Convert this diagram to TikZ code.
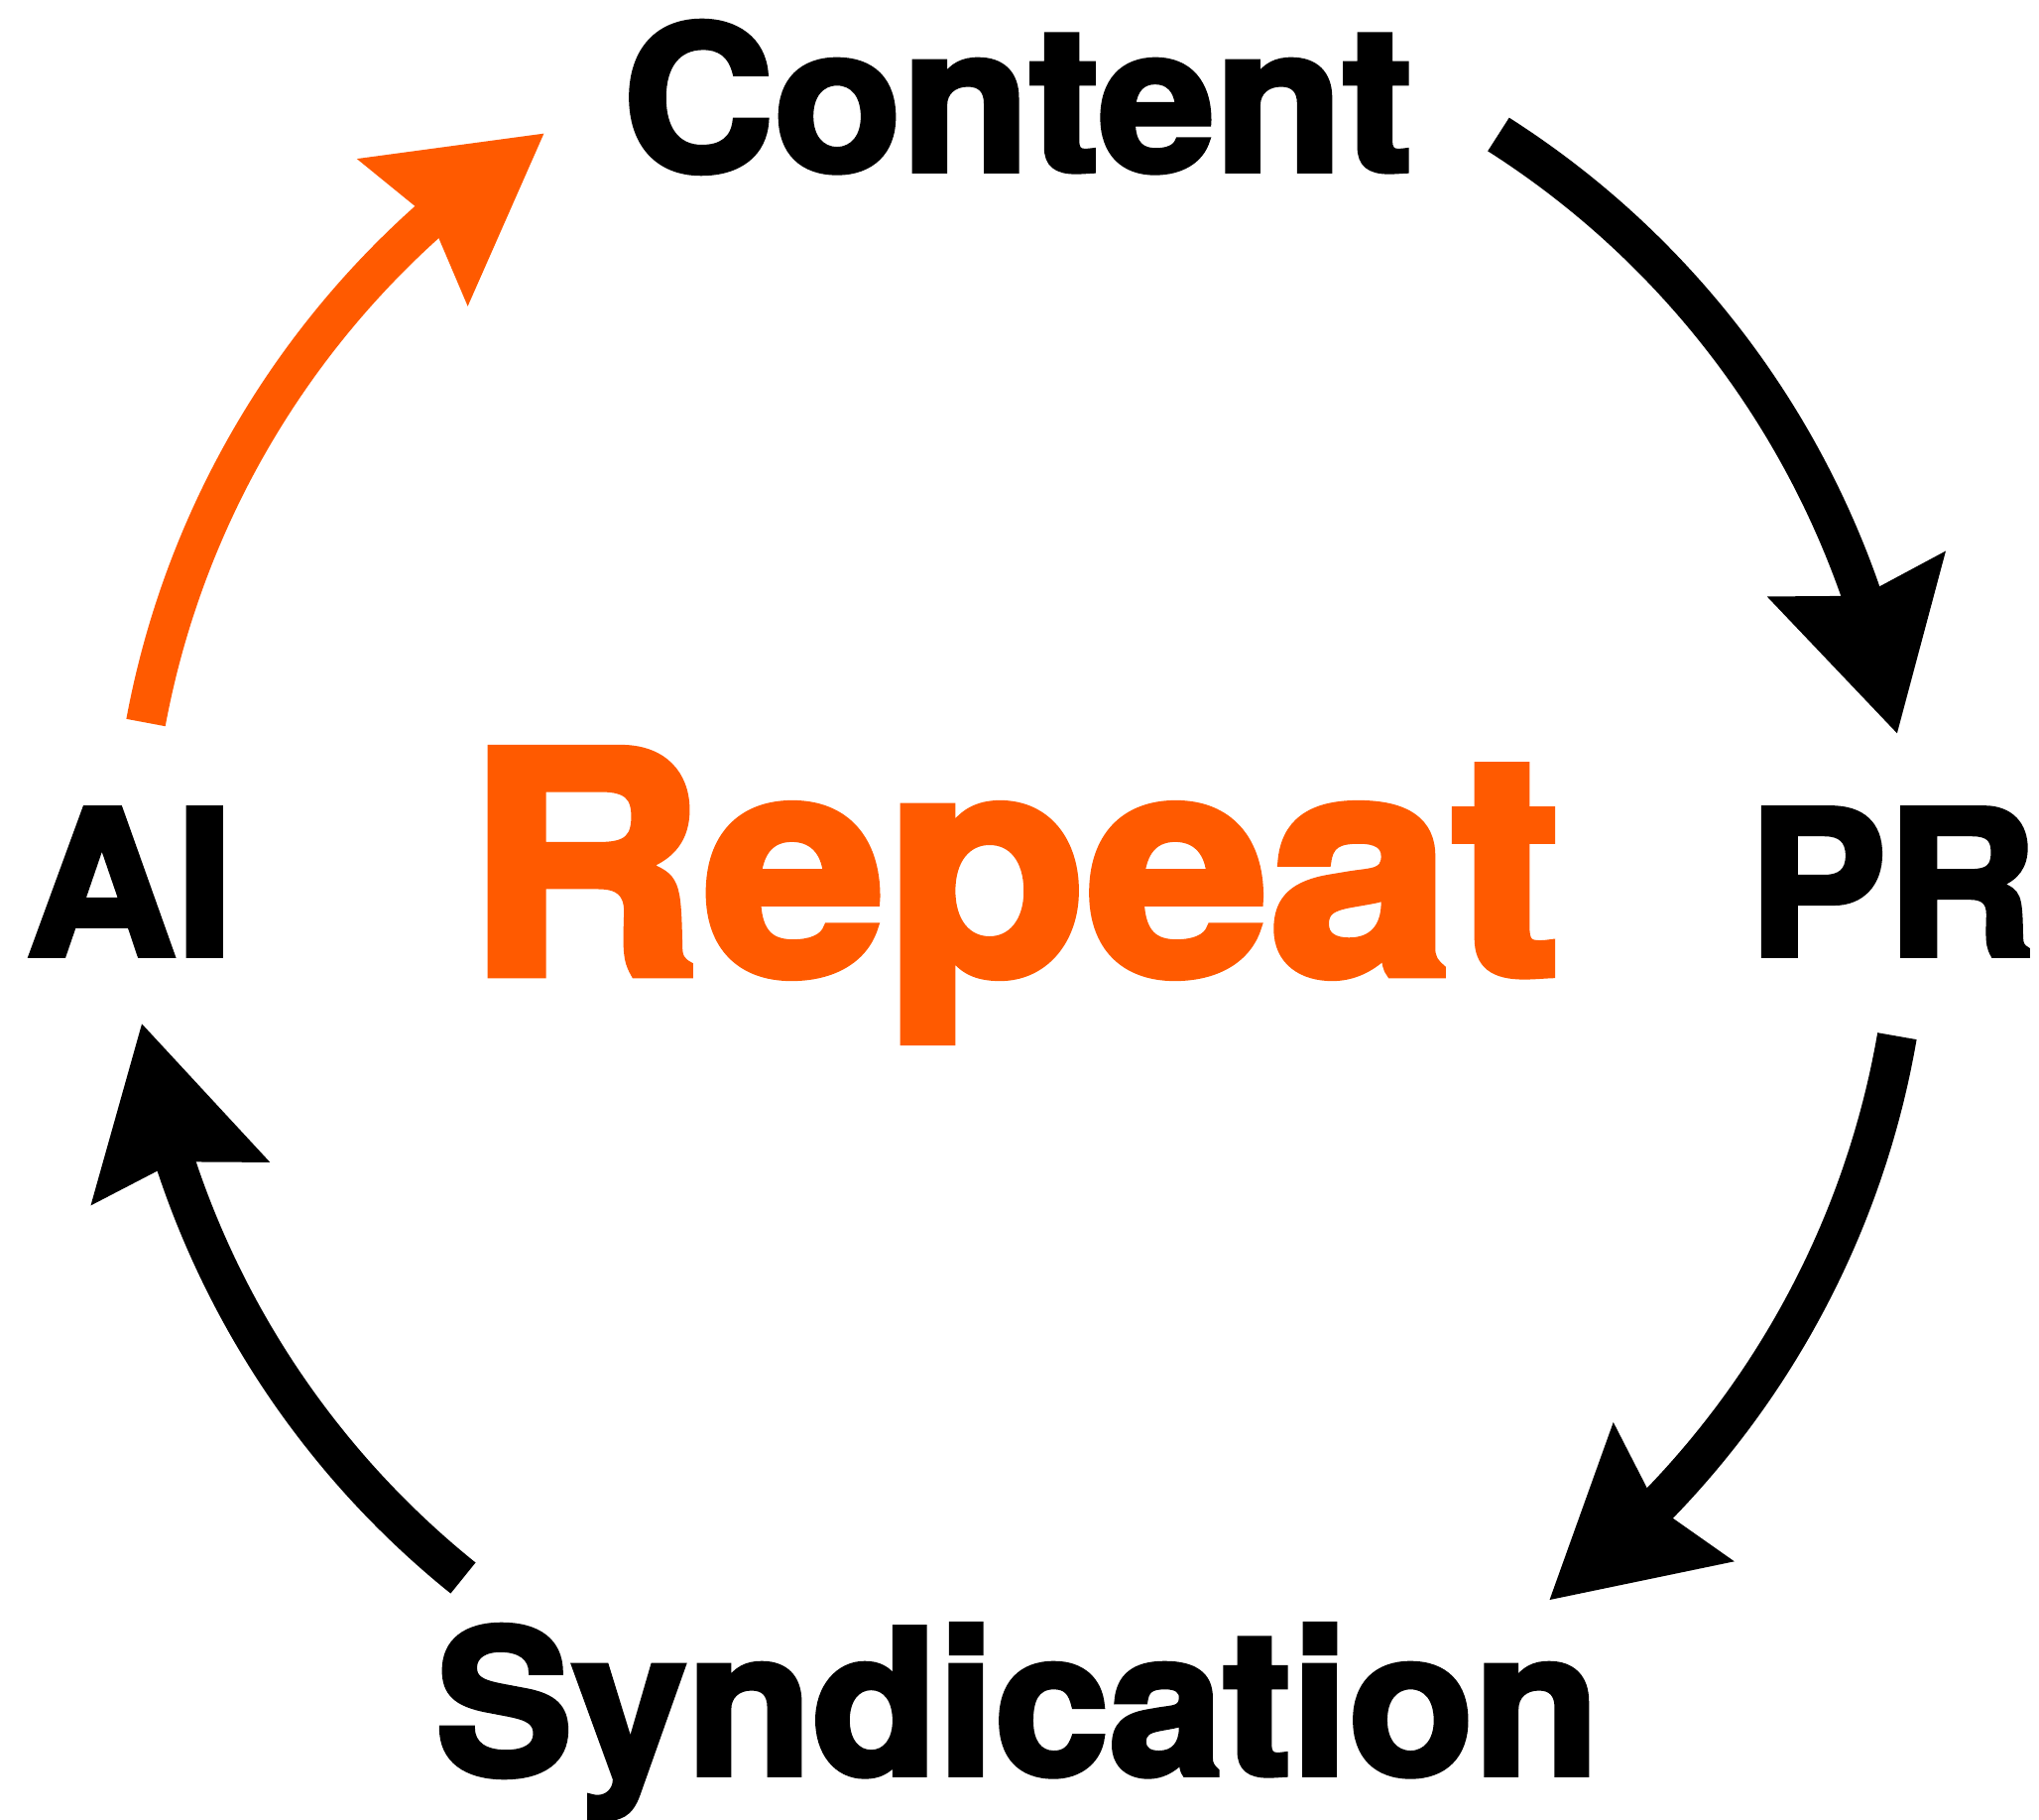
\documentclass[tikz,border=0pt]{standalone}
\usepackage{graphicx}
\usepackage{fontspec}
\setmainfont{TeX Gyre Heros}[BoldFeatures={FakeBold=2.8}]
\usetikzlibrary{arrows.meta,bending}
\definecolor{brandorange}{HTML}{FF5A00}
\begin{document}
\begin{tikzpicture}[x=1pt,y=1pt,
  txt/.style={font=\fontsize{203}{203}\selectfont\bfseries, inner sep=0pt, anchor=base, text=black},
  bigtxt/.style={font=\fontsize{311}{311}\selectfont\bfseries, inner sep=0pt, anchor=base, text=brandorange},
  cyc/.style={line width=40pt, -{Stealth[length=166pt,width=186pt,inset=23pt,line width=0pt]}}]
\useasboundingbox (0,0) rectangle (2056,1834);
\coordinate (c) at (1029,942);
\node[txt] (content) at (1026,1662) {\scalebox{1.04}[1]{Content}};
\node[txt] (pr) at (1908,871) {\scalebox{1.03}[1]{PR}};
\node[txt] (ai) at (131,871) {\scalebox{1.03}[1]{AI}};
\node[txt] (synd) at (1026,45) {\scalebox{1.02}[1]{Syndication}};
\node[bigtxt] (repeat) at (1022,852) {\scalebox{1.065}[1]{Repeat}};
\draw[cyc, brandorange] ([shift={(169.5:897pt)}]c) arc[start angle=169.5, end angle=122.4, radius=897pt];
\draw[cyc, black] ([shift={(57.5:897pt)}]c) arc[start angle=57.5, end angle=9.8, radius=897pt];
\draw[cyc, black] ([shift={(-9.8:897pt)}]c) arc[start angle=-9.8, end angle=-53.5, radius=897pt];
\draw[cyc, black] ([shift={(231.2:897pt)}]c) arc[start angle=231.2, end angle=189.0, radius=897pt];
\end{tikzpicture}
\end{document}
